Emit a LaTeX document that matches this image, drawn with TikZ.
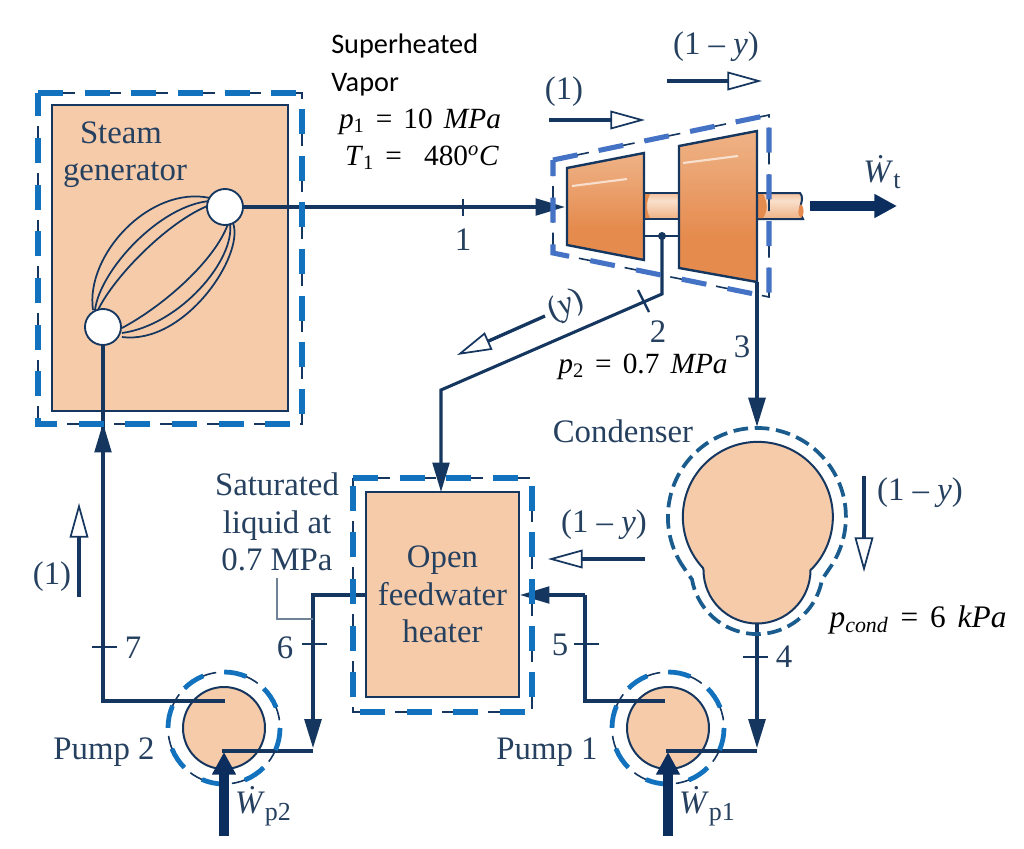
\documentclass[tikz,border=0pt]{standalone}
\usepackage{fontspec}
\setmainfont{Liberation Serif}
\newfontfamily\calibrifont{Carlito}
\usetikzlibrary{arrows.meta}
\definecolor{navy}{HTML}{14365F}
\definecolor{arrownavy}{HTML}{0B2E5E}
\definecolor{labelblue}{HTML}{26405F}
\definecolor{peach}{HTML}{F5CBAA}
\definecolor{cvblue}{HTML}{1272BE}
\definecolor{cvturb}{HTML}{4472C4}
\definecolor{cvcond}{HTML}{1B5C8E}
\definecolor{orangeedge}{HTML}{E58B4E}
\definecolor{leadergrey}{HTML}{6F8296}
\pgfdeclareverticalshading{turbshade}{100bp}{
  color(0bp)=(orangeedge!55!peach); color(25bp)=(orangeedge); color(40bp)=(orangeedge);
  color(65bp)=(orangeedge!55!peach); color(100bp)=(peach)}
\pgfdeclareverticalshading{shaftshade}{100bp}{
  color(0bp)=(orangeedge); color(30bp)=(orangeedge!30!peach); color(60bp)=(peach!60!white);
  color(85bp)=(orangeedge!50!peach); color(100bp)=(orangeedge)}
\newcommand{\wdot}[1]{\textit{\.{W}}\raisebox{-5pt}{\fontsize{19.5}{19.5}\selectfont #1}}
\newcommand{\eqsp}{\hspace{.38em}}
\tikzset{
  lbl/.style={font=\fontsize{24.6}{28}\selectfont, text=labelblue, inner sep=0pt, align=center},
  num/.style={lbl},
  eqn/.style={font=\fontsize{22}{26}\selectfont, text=black, inner sep=0pt},
  eqnbig/.style={font=\fontsize{23.5}{26}\selectfont, text=black, inner sep=0pt},
  callout/.style={font=\calibrifont\fontsize{21.2}{28}\selectfont, text=black, inner sep=0pt, align=left},
  block/.style={draw=navy, line width=2.2pt, fill=peach, inner sep=0pt, outer sep=0pt},
  tube/.style={draw=navy, line width=1.4pt, fill=white, circle, minimum size=27pt, inner sep=0pt, outer sep=0pt},
  pumpbody/.style={draw=navy, line width=1.5pt, fill=peach, circle, minimum size=61.5pt, inner sep=0pt, outer sep=0pt},
  coil/.style={draw=navy, line width=1.3pt},
  pipe/.style={draw=navy, line width=2.3pt},
  feedpipe/.style={draw=navy, line width=3pt},
  tick/.style={draw=navy, line width=1.8pt},
  flow/.style={-{Triangle[length=22pt,width=12.5pt]}},
  openflow/.style={draw=navy, line width=2.5pt, -{Triangle[open,fill=white,length=26pt,width=14pt,line width=1.3pt]}},
  workflow/.style={draw=arrownavy, line width=7pt, -{Triangle[length=17pt,width=17pt]}},
  cvbox/.style={draw=navy, line width=1.3pt, dash pattern=on 27.5pt off 7.5pt,
    postaction={draw=cvblue, line width=3.8pt, dash pattern=on 18.75pt off 16.25pt}},
  cvturbine/.style={draw=navy, line width=1.2pt, dash pattern=on 27.5pt off 7.5pt,
    postaction={draw=cvturb, line width=3.8pt, dash pattern=on 18.75pt off 16.25pt}},
  cvpump/.style={draw=navy, line width=1.2pt, dash pattern=on 27pt off 6pt,
    postaction={draw=cvblue, line width=3.6pt, dash pattern=on 17pt off 16pt}},
  cvcondenser/.style={draw=cvcond, line width=2.8pt, dash pattern=on 11pt off 5pt},
}
\begin{document}
\begin{tikzpicture}[x=0.75pt,y=0.75pt,yscale=-1,xscale=1]
\useasboundingbox (0,0) rectangle (1024,849);
% steam generator
\node[block, minimum width=177pt, minimum height=229.5pt] (sgen) at (170,258) {};
\node[lbl] (sgenlabel) at (125,155) {\hspace*{-6pt}Steam\\generator};
\draw[coil] (93,310) .. controls (85,255) and (150,185) .. (210,198);
\draw[coil] (95,310) .. controls (100,270) and (160,205) .. (210,201);
\draw[coil] (98,310) .. controls (115,275) and (170,220) .. (210,205);
\draw[coil] (122,337) .. controls (185,345) and (245,255) .. (233,223);
\draw[coil] (122,333) .. controls (180,325) and (235,260) .. (230,224);
\draw[coil] (122,328) .. controls (165,305) and (215,260) .. (228,224);
\node[tube] (sgtop) at (225,207) {};
\node[tube] (sgbot) at (103,327) {};
% turbine
\draw[navy, line width=1.5pt, shading=shaftshade] (644,193) rectangle (680,219);
\fill[orangeedge] (645,194) -- (650,194) .. controls (646,203) and (646,210) .. (650,218) -- (645,218) -- cycle;
\draw[navy, line width=1.5pt, shading=shaftshade] (757,193) -- (800,193) .. controls (806,200) and (796,206) .. (803,219) -- (757,219) -- cycle;
\fill[orangeedge] (758,194) -- (763,194) .. controls (768,203) and (768,210) .. (763,218) -- (758,218) -- cycle;
\fill[orangeedge] (801,204) .. controls (797,210) and (798,216) .. (801,218) .. controls (804,216) and (805,208) .. (801,204) -- cycle;
\draw[navy, line width=1.8pt, shading=turbshade] (567,168) -- (644,153) -- (644,260) -- (567,245) -- cycle;
\draw[navy, line width=1.8pt, shading=turbshade] (679,146) -- (757,131) -- (757,282) -- (679,268) -- cycle;
\draw[white, opacity=.65, line width=1.6pt] (572,186) -- (627,179);
\draw[white, opacity=.65, line width=1.6pt] (683,163) -- (738,156);
\coordinate (hpin) at (565,207);
\coordinate (lpout) at (757,282);
\coordinate (bleed) at (662,236);
\coordinate (bleedknee) at (662,294);
\coordinate (heatknee) at (441,390);
\draw[navy, line width=1.8pt] (644,236) -- (679,236);
\fill[navy] (bleed) circle (4);
% condenser
\coordinate (condtop) at (757,427);
\coordinate (condbot) at (757,623);
\draw[draw=navy, line width=1.5pt, fill=peach] (703,568) arc[start angle=137, end angle=403, radius=75] -- (810.5,570) arc[start angle=0, end angle=180, radius=53.5] -- cycle;
% heater and pumps
\node[block, minimum width=114.75pt, minimum height=153.75pt, lbl] (heater) at (442.5,594.5) {Open\\feedwater\\heater};
\node[pumpbody] (pumpb) at (224,728) {};
\node[pumpbody] (pumpa) at (668,728) {};
\coordinate (pumpbin) at (225,701);
\coordinate (pumpbout) at (222,751);
\coordinate (pumpbknee) at (103,701);
\coordinate (pumpain) at (665,701);
\coordinate (pumpaout) at (666,751);
\coordinate (pumpaknee) at (585,701);
\coordinate (heatw) at (366,595);
\coordinate (heate) at (520,595);
\coordinate (feedb) at (313,595);
\coordinate (feedbend) at (313,751);
\coordinate (feeda) at (585,595);
\coordinate (condend) at (757,751);
\coordinate (sgarrow) at (103,423);
\coordinate (sgarrowfoot) at (103,480);
% connectors
\draw[pipe, flow] (sgtop) -- (hpin);
\draw[pipe, flow] (bleed) -- (bleedknee) -- (heatknee) -- (heatknee |- heater.north);
\draw[feedpipe, flow] (lpout) -- (condtop);
\draw[pipe] (pumpbin) -- (pumpbknee) -- (sgbot);
\draw[pipe, flow] (sgarrowfoot) -- (sgarrow);
\draw[feedpipe, flow] (heatw) -- (feedb) -- ([yshift=-2]feedbend);
\draw[pipe] (feedbend) -- (pumpbout);
\draw[pipe] (pumpain) -- (pumpaknee) -- (feeda);
\draw[pipe, flow] (feeda) -- (heate);
\draw[feedpipe, flow] (condbot) -- ([yshift=-2]condend);
\draw[pipe] (condend) -- (pumpaout);
\draw[leadergrey, line width=.8pt] (277,578) -- (277,619) -- (313,619);
% ticks
\foreach \tx/\ty in {104/647, 314/644, 586/644, 755/657}
  \draw[tick] (\tx-12,\ty) -- (\tx+13,\ty);
\draw[tick] (463,199) -- (463,216);
\draw[tick] (638,290) -- (649,312);
% boundaries
\draw[cvbox] (38,93) -- (302,93) -- (302,424) -- (38,424) -- cycle;
\draw[cvbox] (353,478) -- (532,478) -- (532,712) -- (353,712) -- cycle;
\draw[cvturbine] (553,160) -- (769,115) -- (769,297) -- (553,253) -- cycle;
\draw[cvpump] (224,728) circle (56);
\draw[cvpump] (668,728) circle (56);
\draw[cvcondenser] (684,568) arc[start angle=145, end angle=395, radius=89] -- (822,579.5) arc[start angle=10, end angle=170, radius=66] -- cycle;
% work and flow arrows
\draw[workflow] (810,206) -- (897,206);
\draw[workflow] (224,836) -- (224,752);
\draw[workflow] (668,836) -- (668,752);
\draw[openflow] (549,120) -- (645,120);
\draw[openflow] (667,81) -- (762,81);
\draw[openflow] (545,316) -- (457,355);
\draw[openflow] (79,597) -- (79,503);
\draw[openflow] (645,559) -- (548,559);
\draw[openflow] (864,476) -- (864,572);
% labels
\node[callout, anchor=north west] (state) at (331,34) {Superheated\\Vapor};
\node[eqn] (pone) at (420,122) {\textit{p}\textsubscript{1}\eqsp=\eqsp10\eqsp\textit{MPa}};
\node[eqn] (tone) at (422,158) {\textit{T}\textsubscript{1}\eqsp=\eqsp\eqsp480\textsuperscript{\textit{o}}\textit{C}};
\node[eqn] (ptwo) at (643,367) {\textit{p}\textsubscript{2}\eqsp=\eqsp0.7\eqsp\textit{MPa}};
\node[eqnbig] (pcond) at (918,620) {\textit{p}\textsubscript{\textit{cond}}\eqsp=\eqsp6\eqsp\textit{kPa}};
\node[num] (nume) at (463,240) {1};
\node[num] (numb) at (658,332) {2};
\node[num] (numc) at (742,347) {3};
\node[num] (numd) at (784,657) {4};
\node[num] (nuf) at (560,645) {5};
\node[num] (nug) at (285,648) {6};
\node[num] (nuh) at (133,648) {7};
\node[lbl] (flowa) at (564,92) {(1)};
\node[lbl] (flowb) at (716,47) {(1 -- \textit{y})};
\node[lbl, rotate=22] (flowc) at (566,306) {(\textit{y})};
\node[lbl] (flowd) at (52,577) {(1)};
\node[lbl] (flowe) at (604,525) {(1 -- \textit{y})};
\node[lbl] (flowf) at (920,493) {(1 -- \textit{y})};
\node[lbl] (condname) at (623,431) {Condenser};
\node[lbl] (sat) at (277,522) {Saturated\\liquid at\\0.7 MPa};
\node[lbl] (pumpbname) at (104,752) {Pump 2};
\node[lbl] (pumpaname) at (547,752) {Pump 1};
\node[lbl] (workt) at (882,172) {\wdot{t}};
\node[lbl] (workb) at (263,806) {\wdot{p2}};
\node[lbl] (worka) at (707,806) {\wdot{p1}};
\end{tikzpicture}
\end{document}
